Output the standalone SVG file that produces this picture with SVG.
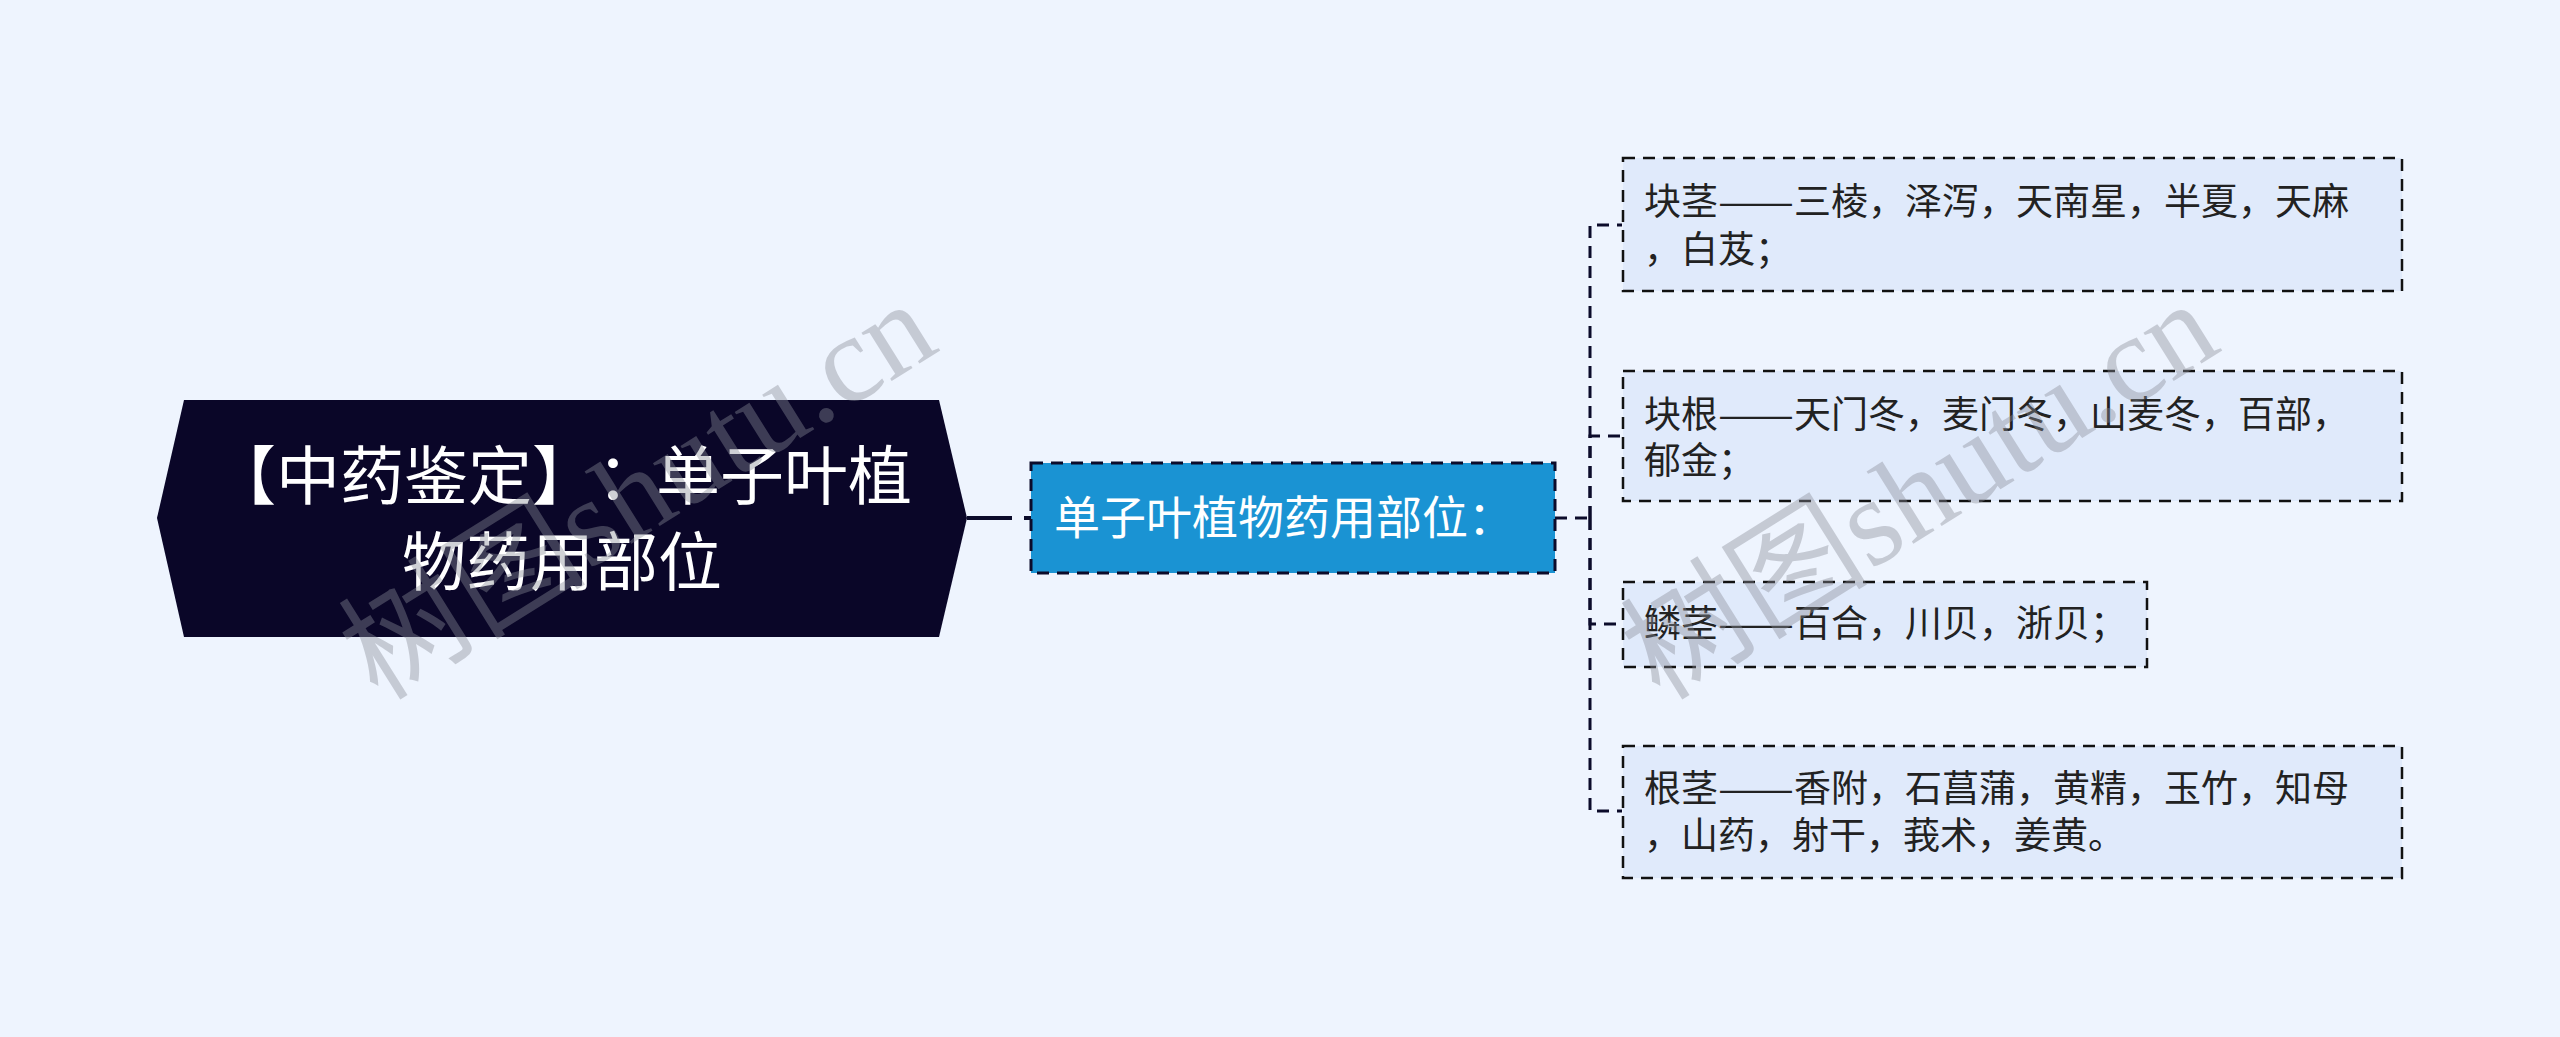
<svg xmlns="http://www.w3.org/2000/svg" width="2560" height="1037" viewBox="0 0 2560 1037">
<style>
.bg{fill:#eef4fe}
.conn{fill:none;stroke:#0b0b2a;stroke-width:3;stroke-dasharray:12 8}
.leaf rect{fill:#e0eafb;stroke:#111;stroke-width:2.5;stroke-dasharray:12 8}
.leaf text{font-family:"Noto Sans CJK SC","Noto Sans",sans-serif;font-size:37px;fill:#222}
.wm{font-family:"Liberation Serif","Noto Sans CJK SC",serif;font-size:124px;fill:#8a8d98;opacity:0.4}
</style>
<rect class="bg" x="0" y="0" width="2560" height="1037"/>
<g id="connectors">
<path d="M967,518 H1031" fill="none" stroke="#0b0b2a" stroke-width="4" stroke-dasharray="45 12"/>
<path class="conn" d="M1555,518 H1590"/>
<path class="conn" d="M1590,518 V225 H1622"/>
<path class="conn" d="M1590,518 V436 H1622"/>
<path class="conn" d="M1590,518 V624 H1622"/>
<path class="conn" d="M1590,518 V811 H1622"/>
</g>
<g id="root">
<polygon points="157,518 184,400 939,400 967,518 939,637 184,637" fill="#0a0628"/>
<text font-family="Noto Sans CJK SC,sans-serif" font-size="64" fill="#fff"><tspan x="212" y="499">【中药鉴定】</tspan><tspan x="597" y="499">：</tspan><tspan x="656" y="499">单子叶植</tspan><tspan x="402" y="585">物药用部位</tspan></text>
</g>
<g id="main">
<rect x="1031" y="463" width="524" height="110" fill="#1a93d3" stroke="#0b0b2a" stroke-width="3" stroke-dasharray="12 8"/>
<text x="1054" y="534" font-family="Noto Sans CJK SC,sans-serif" font-size="46" fill="#fff">单子叶植物药用部位：</text>
</g>
<g id="leaf1" class="leaf">
<rect x="1623" y="158" width="779" height="133"/>
<text x="1644" y="215">块茎<tspan textLength="76" lengthAdjust="spacingAndGlyphs">——</tspan>三棱，泽泻，天南星，半夏，天麻</text>
<text x="1644" y="263">，白芨；</text>
</g>
<g id="leaf2" class="leaf">
<rect x="1623" y="371" width="779" height="130"/>
<text x="1644" y="428">块根<tspan textLength="76" lengthAdjust="spacingAndGlyphs">——</tspan>天门冬，麦门冬，山麦冬，百部，</text>
<text x="1644" y="474">郁金；</text>
</g>
<g id="leaf3" class="leaf">
<rect x="1623" y="582" width="524" height="85"/>
<text x="1644" y="637">鳞茎<tspan textLength="76" lengthAdjust="spacingAndGlyphs">——</tspan>百合，川贝，浙贝；</text>
</g>
<g id="leaf4" class="leaf">
<rect x="1623" y="746" width="779" height="132"/>
<text x="1644" y="802">根茎<tspan textLength="76" lengthAdjust="spacingAndGlyphs">——</tspan>香附，石菖蒲，黄精，玉竹，知母</text>
<text x="1644" y="849">，山药，射干，莪术，姜黄。</text>
</g>
<g id="watermarks">
<text class="wm" transform="translate(378,702) rotate(-32)">树图shutu.cn</text>
<text class="wm" transform="translate(1660,702) rotate(-32)">树图shutu.cn</text>
</g>
</svg>
